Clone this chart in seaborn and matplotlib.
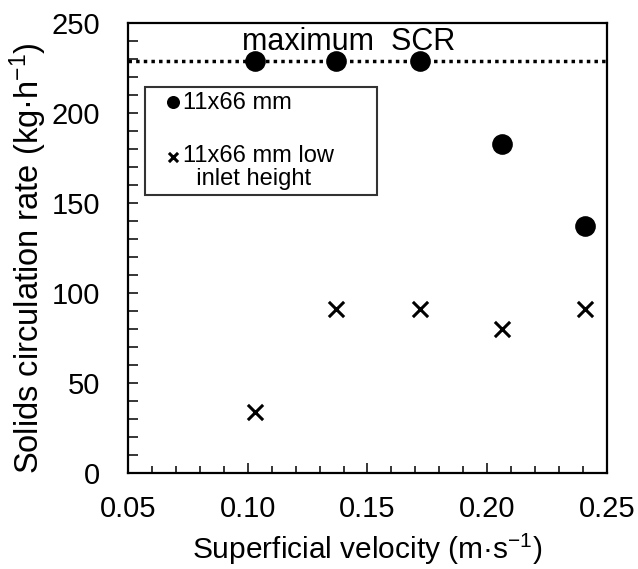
import matplotlib
matplotlib.use("Agg")
import matplotlib.pyplot as plt
import seaborn as sns
import pandas as pd
from matplotlib.ticker import MultipleLocator

velocity = [0.103, 0.137, 0.172, 0.206, 0.241]
scr_normal = [229, 229, 229, 183, 137]
scr_low_inlet = [34, 91, 91, 80, 91]
max_scr = 229

labels = ["11x66 mm", "11x66 mm low\n  inlet height"]

sns.set_style("ticks")
plt.rcParams["font.family"] = ["Liberation Sans", "DejaVu Sans"]
plt.rcParams["text.color"] = "black"
plt.rcParams["axes.labelcolor"] = "black"
plt.rcParams["xtick.color"] = "black"
plt.rcParams["ytick.color"] = "black"
plt.rcParams["mathtext.fontset"] = "custom"
plt.rcParams["mathtext.rm"] = "Liberation Sans"
plt.rcParams["mathtext.default"] = "rm"

df = pd.concat([
    pd.DataFrame({"v": velocity, "scr": scr_normal, "series": labels[0]}),
    pd.DataFrame({"v": velocity, "scr": scr_low_inlet, "series": labels[1]}),
])

fig = plt.figure(figsize=(6.38, 5.69), dpi=100)
ax = fig.add_axes([0.2006, 0.1687, 0.7508, 0.7909])

ax.axhline(max_scr, color="black", linestyle=(0, (1, 1.2)), linewidth=2.5, zorder=1)

sns.scatterplot(data=df[df.series == labels[0]], x="v", y="scr", ax=ax,
                marker="o", s=190, color="black", edgecolor="black", label=labels[0], zorder=3)
sns.scatterplot(data=df[df.series == labels[1]], x="v", y="scr", ax=ax,
                marker="x", s=120, color="black", linewidth=2.2, label=labels[1], zorder=3)

ax.text(0.142, 239.5, "maximum  SCR", fontsize=22, ha="center", va="center")

ax.set_xlim(0.05, 0.25)
ax.set_ylim(0, 250)
ax.xaxis.set_major_locator(MultipleLocator(0.05))
ax.xaxis.set_minor_locator(MultipleLocator(0.01))
ax.yaxis.set_major_locator(MultipleLocator(50))
ax.yaxis.set_minor_locator(MultipleLocator(10))
ax.set_xticklabels([f"{t:.2f}" for t in ax.get_xticks()])
ax.tick_params(which="both", direction="in", width=1.1, labelsize=21)
ax.tick_params(axis="x", which="major", length=7, pad=16)
ax.tick_params(axis="x", which="minor", length=5)
ax.tick_params(axis="y", which="both", length=7)
ax.tick_params(axis="y", which="major", pad=20)
for sp in ax.spines.values():
    sp.set_linewidth(1.6)
    sp.set_color("black")

ax.set_xlabel("Superficial velocity (m·s$^{-1}$)", fontsize=21.5, labelpad=6)
ax.set_ylabel("Solids circulation rate (kg·h$^{-1}$)", fontsize=23.5, labelpad=2)
ax.yaxis.label.set_y(0.478)

leg = ax.legend(loc="upper left", bbox_to_anchor=(0.0355, 0.5, 0.484, 0.358),
                mode="expand", borderaxespad=0,
                fontsize=17, frameon=True, fancybox=False, labelspacing=1.35,
                handletextpad=-0.6, handlelength=2.0, borderpad=0.2, markerscale=0.6)
leg.get_frame().set_edgecolor("black")
leg.get_frame().set_linewidth(1.5)
for t in leg.get_texts():
    t.set_linespacing(1.05)
# cross handle sits on the first line of its two-line label
h = leg.legend_handles[1]
h.set_offsets(h.get_offsets() + [0, 9.5])

fig.savefig("out.png", dpi=100)
